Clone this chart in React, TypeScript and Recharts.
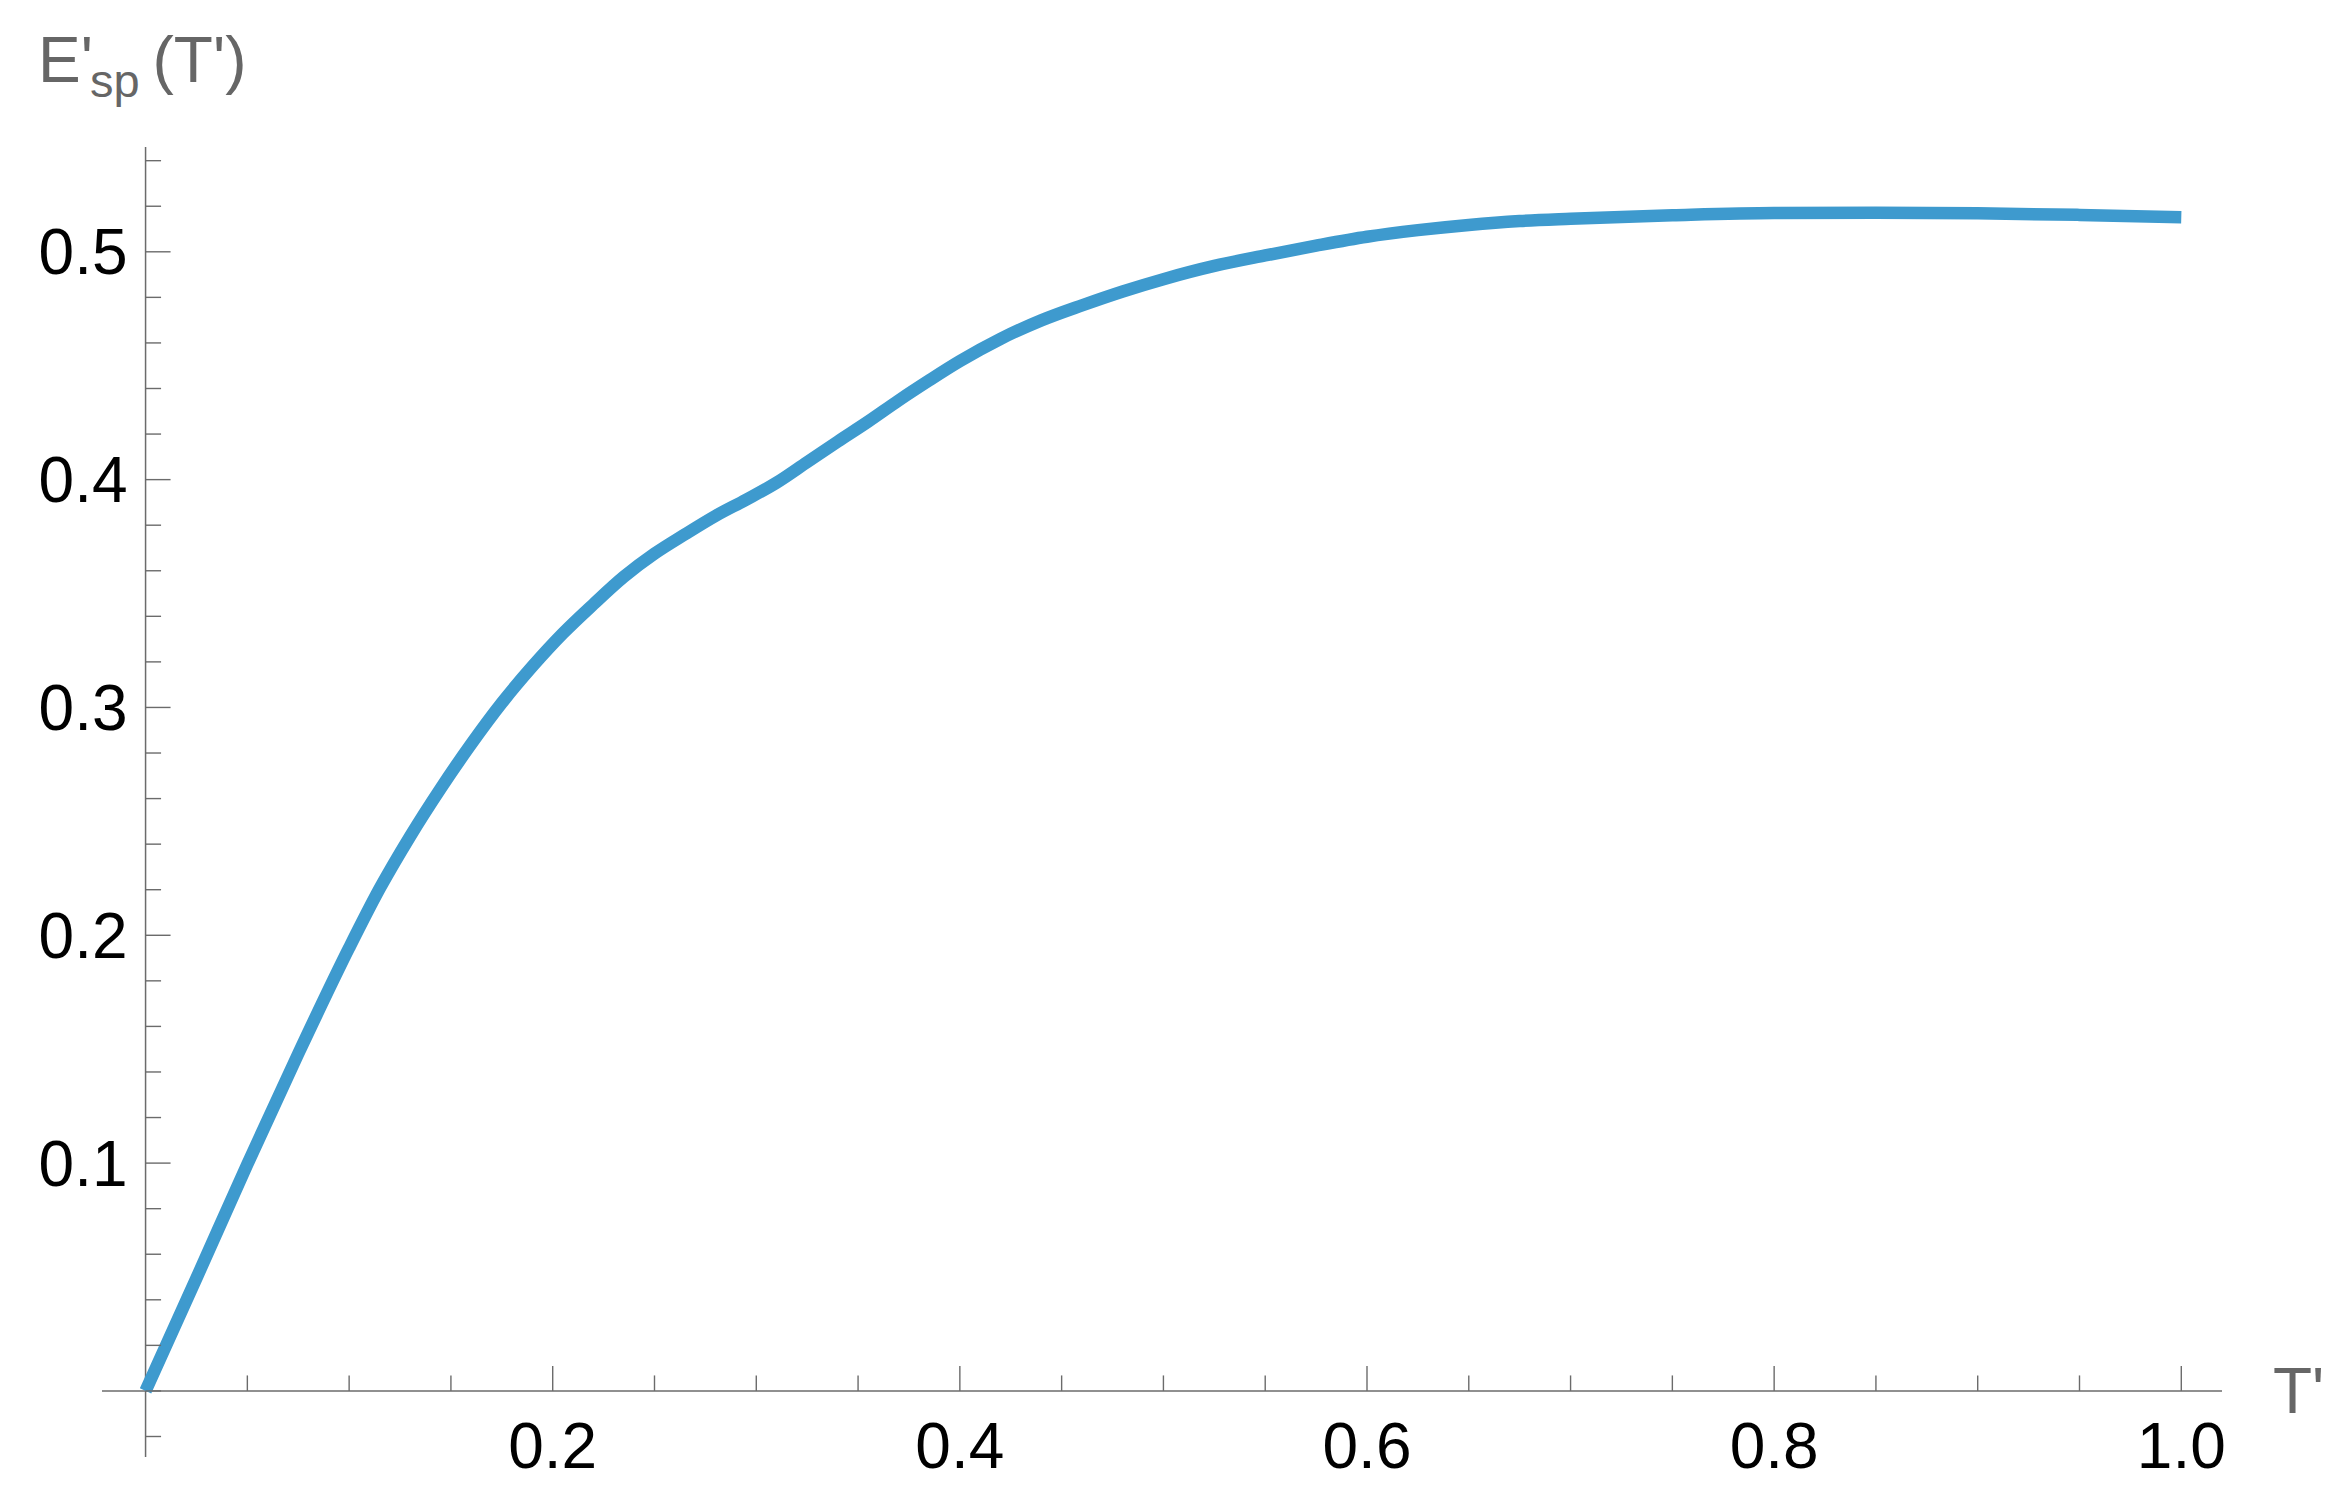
import { LineChart, Line, XAxis, YAxis, ReferenceLine } from 'recharts';

// curve: T' -> E'sp(T')
const T_VALUES = [
  0, 0.025, 0.05, 0.075, 0.1, 0.115, 0.13, 0.145, 0.16, 0.175, 0.19, 0.205, 0.22,
  0.235, 0.25, 0.265, 0.28, 0.295, 0.31, 0.325, 0.34, 0.355, 0.37, 0.385, 0.4,
  0.42, 0.44, 0.46, 0.48, 0.5, 0.525, 0.55, 0.575, 0.6, 0.625, 0.65, 0.675, 0.7,
  0.75, 0.8, 0.85, 0.9, 0.95, 1.0,
];
const E_VALUES = [
  0, 0.0495, 0.0995, 0.148, 0.1945, 0.2205, 0.2435, 0.2645, 0.284, 0.302, 0.318, 0.3325, 0.3453,
  0.3574, 0.3675, 0.376, 0.3841, 0.3912, 0.3987, 0.4077, 0.4167, 0.4255, 0.4348, 0.4436, 0.452,
  0.4618, 0.4699, 0.4765, 0.4826, 0.488, 0.4938, 0.4984, 0.5027, 0.5066, 0.5095, 0.5118, 0.5135, 0.5145,
  0.516, 0.517, 0.5171, 0.5169, 0.5162, 0.5152,
];

const X_TICKS = [
  0.05, 0.1, 0.15, 0.2, 0.25, 0.3, 0.35, 0.4, 0.45, 0.5,
  0.55, 0.6, 0.65, 0.7, 0.75, 0.8, 0.85, 0.9, 0.95, 1.0,
];
const X_LABELS = [0.2, 0.4, 0.6, 0.8, 1.0];
const Y_TICKS = [
  -0.02, 0, 0.02, 0.04, 0.06, 0.08, 0.1, 0.12, 0.14, 0.16, 0.18, 0.2, 0.22, 0.24,
  0.26, 0.28, 0.3, 0.32, 0.34, 0.36, 0.38, 0.4, 0.42, 0.44, 0.46, 0.48, 0.5, 0.52, 0.54,
];
const Y_LABELS = [0.1, 0.2, 0.3, 0.4, 0.5];

const data = T_VALUES.map((t, i) => ({ t, e: E_VALUES[i] }));

// layout
const W = 2350;
const H = 1502;
const Y_AXIS_W = 1;
const X_AXIS_H = 1;
const MARGIN = { top: 147, right: 128, bottom: 45 - X_AXIS_H, left: 102 - Y_AXIS_W };
const X_DOMAIN: [number, number] = [-0.0214, 1.02];
const Y_DOMAIN: [number, number] = [-0.029, 0.546];
const PLOT_LEFT = MARGIN.left + Y_AXIS_W;
const PLOT_W = W - PLOT_LEFT - MARGIN.right;
const PLOT_H = H - MARGIN.top - MARGIN.bottom - X_AXIS_H;
// pixel position of the axes crossing at (0, 0)
const AXIS_X = PLOT_LEFT + ((0 - X_DOMAIN[0]) / (X_DOMAIN[1] - X_DOMAIN[0])) * PLOT_W;
const AXIS_Y = MARGIN.top + ((Y_DOMAIN[1] - 0) / (Y_DOMAIN[1] - Y_DOMAIN[0])) * PLOT_H;

const FONT = '"Liberation Sans", Arial, sans-serif';
const AXIS_COLOR = '#6b6b6b';
const TITLE_COLOR = '#666666';
const LINE_COLOR = '#3e9ace';
const MAJOR_LEN = 25;
const MINOR_LEN = 15.5;

function XTick(props: any) {
  const v = props.payload.value;
  const x = props.x;
  const major = X_LABELS.includes(v);
  return (
    <g>
      <line x1={x} x2={x} y1={AXIS_Y} y2={AXIS_Y - (major ? MAJOR_LEN : MINOR_LEN)} stroke={AXIS_COLOR} strokeWidth={1.4} />
      {major && (
        <text x={x} y={AXIS_Y + 77} textAnchor="middle" fontSize={64} fontFamily={FONT} fill="#000">
          {v.toFixed(1)}
        </text>
      )}
    </g>
  );
}

function YTick(props: any) {
  const v = props.payload.value;
  const y = props.y;
  const major = Y_LABELS.includes(v);
  return (
    <g>
      <line x1={AXIS_X} x2={AXIS_X + (major ? MAJOR_LEN : MINOR_LEN)} y1={y} y2={y} stroke={AXIS_COLOR} strokeWidth={1.4} />
      {major && (
        <text x={AXIS_X - 18} y={y + 22.5} textAnchor="end" fontSize={64} fontFamily={FONT} fill="#000">
          {v.toFixed(1)}
        </text>
      )}
    </g>
  );
}

function YTitle() {
  return (
    <text x={38} y={82} fill={TITLE_COLOR} fontSize={64} fontFamily={FONT}>
      E'
      <tspan fontSize={47} dy={15} dx={-3}>sp</tspan>
      <tspan dy={-15} dx={13}>(T')</tspan>
    </text>
  );
}

function XTitle() {
  return (
    <text x={2273} y={1413} fill={TITLE_COLOR} fontSize={64} fontFamily={FONT}>
      T'
    </text>
  );
}

export default function App() {
  return (
    <div style={{ position: 'absolute', left: 0, top: 0, width: W, height: H, background: '#fff' }}>
      <LineChart width={W} height={H} data={data} margin={MARGIN}>
        <XAxis
          dataKey="t"
          type="number"
          domain={X_DOMAIN}
          allowDataOverflow
          ticks={X_TICKS}
          interval={0}
          height={X_AXIS_H}
          axisLine={false}
          tickLine={false}
          tickSize={0}
          tickMargin={0}
          tick={(p: any) => <XTick {...p} />}
          label={{ content: () => <XTitle /> }}
        />
        <YAxis
          type="number"
          domain={Y_DOMAIN}
          allowDataOverflow
          ticks={Y_TICKS}
          interval={0}
          width={Y_AXIS_W}
          axisLine={false}
          tickLine={false}
          tickSize={0}
          tickMargin={0}
          tick={(p: any) => <YTick {...p} />}
          label={{ content: () => <YTitle /> }}
        />
        <ReferenceLine x={0} stroke={AXIS_COLOR} strokeWidth={1.5} />
        <ReferenceLine y={0} stroke={AXIS_COLOR} strokeWidth={1.5} />
        <Line
          type="monotone"
          dataKey="e"
          stroke={LINE_COLOR}
          strokeWidth={12.5}
          dot={false}
          activeDot={false}
          isAnimationActive={false}
        />
      </LineChart>
    </div>
  );
}
